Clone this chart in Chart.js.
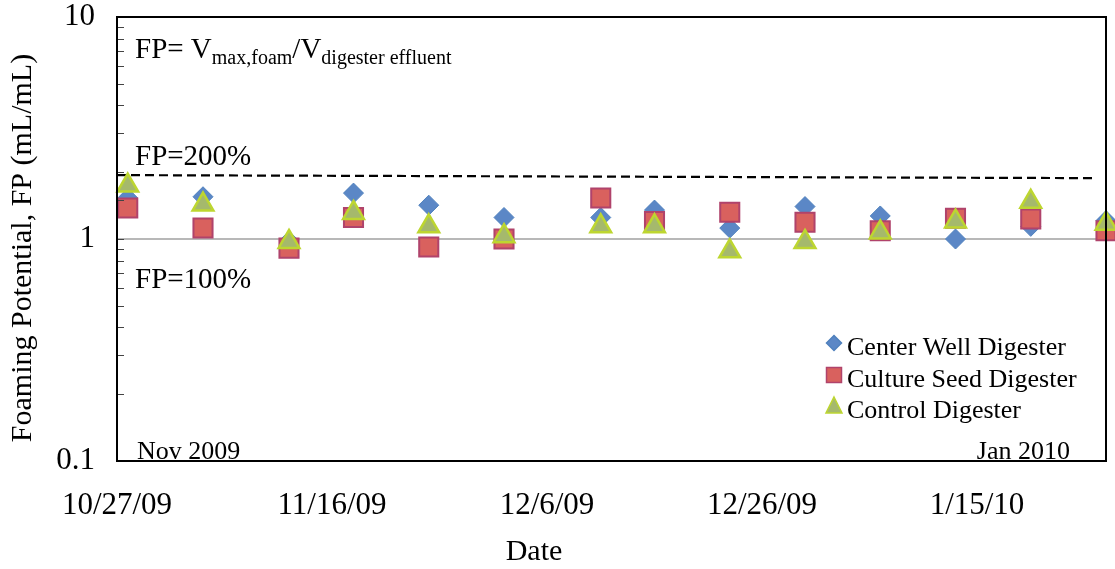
<!DOCTYPE html>
<html>
<head>
<meta charset="utf-8">
<script src="https://cdn.jsdelivr.net/npm/chart.js@4"></script>
<style>
  html, body { margin: 0; padding: 0; background: #fff; }
</style>
</head>
<body>
<canvas id="myChart" width="1115" height="569"></canvas>
<script>
// days after 10/27/09 for each sampling
const days = [1, 8, 16, 22, 29, 36, 45, 50, 57, 64, 71, 78, 85, 92];
const xTickLabels = ["10/27/09", "11/16/09", "12/6/09", "12/26/09", "1/15/10"];
const yTickValues = [0.1, 1, 10];

const centerWell = [1.53, 1.55, 0.98, 1.61, 1.42, 1.25, 1.25, 1.35, 1.12, 1.40, 1.27, 1.0, 1.14, 1.21];
const cultureSeed = [1.38, 1.12, 0.91, 1.25, 0.92, 1.0, 1.53, 1.20, 1.32, 1.19, 1.09, 1.24, 1.23, 1.09];
const control = [1.74, 1.43, 0.97, 1.31, 1.14, 1.03, 1.14, 1.14, 0.88, 0.97, 1.07, 1.2, 1.47, 1.17];

const seriesNames = ["Center Well Digester", "Culture Seed Digester", "Control Digester"];

// reference lines (FP=200% and FP=100%)
const line200X = [0, 91];
const line200Y = [1.94, 1.88];
const line100X = [0, 92];
const line100Y = [1, 1];

const serif = "'Liberation Serif', 'Times New Roman', serif";

function toPoints(xs, ys) {
  return ys.map((v, i) => ({ x: xs[i], y: v }));
}

const styles = [
  { pointStyle: "rectRot", radius: 10, bg: "#5b87c6", border: "#4f81bd", bw: 1 },
  { pointStyle: "rect", radius: 13.5, bg: "#d9615e", border: "#b0436b", bw: 2 },
  { pointStyle: "triangle", radius: 12, bg: "#a5b96c", border: "#bdd630", bw: 2.5 },
];

// legend marker shapes
function drawMarker(ctx, kind, x, y) {
  const s = styles[kind];
  ctx.fillStyle = s.bg;
  ctx.strokeStyle = s.border;
  ctx.lineWidth = 1.5;
  ctx.beginPath();
  if (kind == 0) {
    ctx.moveTo(x - 7.5, y); ctx.lineTo(x, y - 7.5); ctx.lineTo(x + 7.5, y); ctx.lineTo(x, y + 7.5);
  } else if (kind == 1) {
    ctx.rect(x - 7.5, y - 7.5, 15, 15);
  } else {
    ctx.moveTo(x, y - 9); ctx.lineTo(x + 8, y + 7); ctx.lineTo(x - 8, y + 7);
  }
  ctx.closePath();
  ctx.fill();
  ctx.stroke();
}

const decorations = {
  id: "decorations",
  afterDatasetsDraw(chart) {
    const { ctx, chartArea: a, scales } = chart;
    ctx.save();

    // minor ticks inside the left axis
    ctx.strokeStyle = "#444";
    ctx.lineWidth = 1;
    scales.y.ticks.forEach((t) => {
      const py = Math.round(scales.y.getPixelForValue(t.value)) + 0.5;
      ctx.beginPath();
      ctx.moveTo(a.left, py);
      ctx.lineTo(a.left + 7, py);
      ctx.stroke();
    });

    // plot box
    ctx.strokeStyle = "#000";
    ctx.lineWidth = 2;
    ctx.strokeRect(a.left, a.top, a.right - a.left, a.bottom - a.top);

    ctx.fillStyle = "#000";
    ctx.textBaseline = "alphabetic";
    ctx.textAlign = "left";

    // formula
    let x = 135;
    ctx.font = `29px ${serif}`;
    ctx.fillText("FP= V", x, 58);
    x += ctx.measureText("FP= V").width;
    ctx.font = `20px ${serif}`;
    ctx.fillText("max,foam", x, 64);
    x += ctx.measureText("max,foam").width;
    ctx.font = `29px ${serif}`;
    ctx.fillText("/V", x, 58);
    x += ctx.measureText("/V").width;
    ctx.font = `20px ${serif}`;
    ctx.fillText("digester effluent", x, 64);

    ctx.font = `29px ${serif}`;
    ctx.fillText("FP=200%", 135, 165);
    ctx.fillText("FP=100%", 135, 288);

    ctx.font = `26px ${serif}`;
    ctx.fillText("Nov 2009", 137, 459);
    ctx.textAlign = "right";
    ctx.fillText("Jan 2010", 1070, 459);

    // legend
    ctx.textAlign = "left";
    const rows = [345, 377, 408];
    rows.forEach((ry, i) => {
      drawMarker(ctx, i, 834, ry - 2);
      ctx.fillStyle = "#000";
      ctx.fillText(seriesNames[i], 847, ry + 10);
    });

    // axis titles
    ctx.font = `30px ${serif}`;
    ctx.textAlign = "center";
    ctx.fillText("Date", 534, 560);
    ctx.translate(31, 248);
    ctx.rotate(-Math.PI / 2);
    ctx.fillText("Foaming Potential, FP (mL/mL)", 0, 0);

    ctx.restore();
  },
};

const pointSets = [centerWell, cultureSeed, control].map((vals, i) => ({
  label: seriesNames[i],
  data: toPoints(days, vals),
  pointStyle: styles[i].pointStyle,
  pointRadius: styles[i].radius,
  pointHoverRadius: styles[i].radius,
  pointBackgroundColor: styles[i].bg,
  pointBorderColor: styles[i].border,
  pointBorderWidth: styles[i].bw,
  showLine: false,
  clip: false,
  order: 3 - i,
}));

// keep the plot box where the original has it
function noPad(s) {
  s.paddingTop = 0;
  s.paddingBottom = 0;
  s.paddingLeft = 0;
  s.paddingRight = 0;
}

const config = {
  type: "scatter",
  data: {
    datasets: [
      {
        label: "FP=100%",
        data: toPoints(line100X, line100Y),
        showLine: true,
        borderColor: "#a0a0a0",
        borderWidth: 1.5,
        pointRadius: 0,
        order: 5,
      },
      {
        label: "FP=200%",
        data: toPoints(line200X, line200Y),
        showLine: true,
        borderColor: "#000",
        borderWidth: 2.2,
        borderDash: [9, 5],
        pointRadius: 0,
        order: 4,
      },
      ...pointSets,
    ],
  },
  options: {
    responsive: false,
    animation: false,
    layout: { autoPadding: false, padding: { top: 17, right: 9, left: 0, bottom: 0 } },
    plugins: { legend: { display: false }, tooltip: { enabled: false } },
    scales: {
      x: {
        type: "linear",
        min: 0,
        max: 92,
        afterFit: (s) => { s.height = 108; noPad(s); },
        grid: { display: false, drawTicks: false },
        border: { display: false },
        ticks: {
          stepSize: 20,
          includeBounds: false,
          autoSkip: false,
          maxRotation: 0,
          padding: 26,
          color: "#000",
          font: { family: serif, size: 31 },
          callback: (v) => (v % 20 == 0 ? xTickLabels[v / 20] : ""),
        },
      },
      y: {
        type: "logarithmic",
        min: 0.1,
        max: 10,
        afterFit: (s) => { s.width = 117; noPad(s); },
        grid: { display: false, drawTicks: false },
        border: { display: false },
        ticks: {
          autoSkip: false,
          padding: 22,
          color: "#000",
          font: { family: serif, size: 31 },
          callback: (v) => (yTickValues.some((t) => Math.abs(t - v) < 1e-9) ? String(v) : ""),
        },
      },
    },
  },
  plugins: [decorations],
};

const myChart = new Chart(document.getElementById("myChart"), config);
</script>
</body>
</html>
